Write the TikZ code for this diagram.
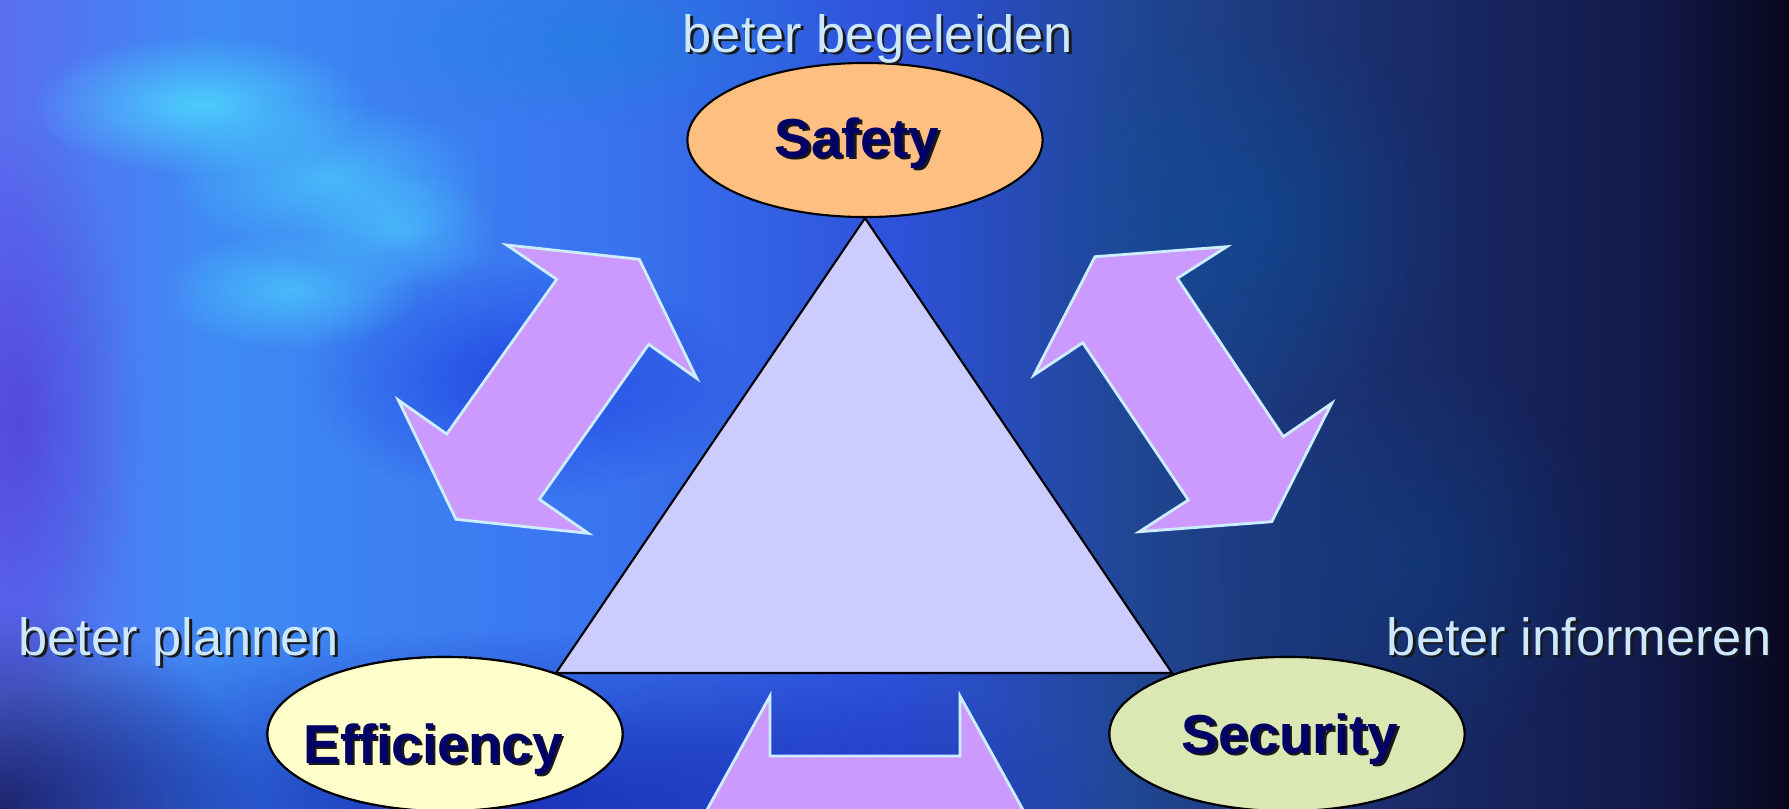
\documentclass[tikz,border=0pt]{standalone}
\usepackage{fontspec}
\setmainfont{Liberation Sans}
\usetikzlibrary{shapes.geometric,fadings}

\definecolor{bgA}{HTML}{5A6EF2}
\definecolor{bgB}{HTML}{3F8AF4}
\definecolor{bgC}{HTML}{3A74F0}
\definecolor{bgD}{HTML}{2E52DA}
\definecolor{bgE}{HTML}{1F4590}
\definecolor{bgF}{HTML}{1A2C6A}
\definecolor{bgG}{HTML}{121A4A}
\definecolor{bgH}{HTML}{08081E}
\definecolor{arrowfill}{HTML}{CC99FF}
\definecolor{arrowedge}{HTML}{CCEEFF}
\definecolor{trifill}{HTML}{CCCCFF}
\definecolor{safetyfill}{HTML}{FFBF80}
\definecolor{effifill}{HTML}{FFFFCC}
\definecolor{secufill}{HTML}{DCE8B4}
\definecolor{keynavy}{HTML}{000066}
\definecolor{goalblue}{HTML}{CCE8FF}
\definecolor{glow}{HTML}{4FDDFF}

% stops between 25bp and 75bp fill the path
\pgfdeclarehorizontalshading{nebula}{100bp}{color(0bp)=(bgA); color(25bp)=(bgA);
  color(31bp)=(bgB); color(42bp)=(bgC); color(50bp)=(bgD); color(57bp)=(bgE);
  color(64bp)=(bgF); color(71bp)=(bgG); color(75bp)=(bgH); color(100bp)=(bgH)}
\tikzfading[name=blobfade, inner color=transparent!0, outer color=transparent!100]

\tikzset{
  bubble/.style={ellipse, draw=black, line width=0.6pt,
    minimum width=3.55cm, minimum height=1.54cm, inner sep=0pt},
  dblarrow/.style={fill=arrowfill, draw=arrowedge, line width=0.8pt},
  blob/.style={path fading=blobfade},
  keyword/.style={font=\fontsize{15.6}{18}\selectfont\bfseries,
    text=keynavy, inner sep=0pt, anchor=base},
  goal/.style={font=\fontsize{14.9}{18}\selectfont,
    text=goalblue, inner sep=0pt},
}

% text with a dark drop shadow: style, name, position, text
\newcommand{\dropnode}[4]{%
  \node[#1, text=black!90] at ([shift={(2.5,2.5)}]#3) {#4};
  \node[#1] (#2) at (#3) {#4};
}

\begin{document}
\begin{tikzpicture}[x=0.01cm, y=-0.01cm]
  \useasboundingbox (0,0) rectangle (1789,808);
  \clip (0,0) rectangle (1789,808);
  % background
  \shade[shading=nebula] (0,0) rectangle (1789,808);
  \fill[bgG, blob, opacity=0.8] (0,808) ellipse [x radius=260, y radius=200];
  \fill[blue!55!black, blob, opacity=0.6] (500,800) ellipse [x radius=600, y radius=170];
  \fill[violet!60!blue, blob, opacity=0.35] (20,420) ellipse [x radius=120, y radius=300];
  \fill[blue!80!black, blob, opacity=0.4] (520,380) ellipse [x radius=220, y radius=120];
  \fill[glow, blob, opacity=0.8] (200,105) ellipse [x radius=170, y radius=70];
  \fill[glow, blob, opacity=0.6] (330,180) ellipse [x radius=160, y radius=80];
  \fill[glow, blob, opacity=0.6] (290,290) ellipse [x radius=130, y radius=60];
  \fill[glow, blob, opacity=0.5] (400,230) ellipse [x radius=100, y radius=60];
  \fill[cyan!70!blue, blob, opacity=0.4] (600,40) ellipse [x radius=250, y radius=90];
  \fill[teal!70!blue, blob, opacity=0.35] (1250,220) ellipse [x radius=220, y radius=200];
  \fill[teal!70!blue, blob, opacity=0.25] (1420,560) ellipse [x radius=200, y radius=200];

  % double arrows
  \draw[dblarrow] (506.7,245) -- (639.3,259.3) -- (696.7,378.3) -- (648.7,344.3)
    -- (539.3,499.3) -- (588.3,533.3) -- (456,519.3) -- (398.3,400)
    -- (446.7,434) -- (556.7,279.3) -- cycle;
  \draw[dblarrow] (1095,256.7) -- (1226.7,246.7) -- (1177.3,278.3) -- (1283.3,436.7)
    -- (1331.7,403.3) -- (1271.7,521.7) -- (1139.3,531.7) -- (1188.3,500)
    -- (1082.7,342.7) -- (1034,375) -- cycle;
  \draw[dblarrow] (705.5,812.5) -- (770,696) -- (770,756) -- (960,756) -- (960,696)
    -- (1024.5,812.5) -- (960,929) -- (960,869) -- (770,869) -- (770,929) -- cycle;

  % ellipses
  \node[bubble, fill=safetyfill] (safety) at (865,140) {};
  \node[bubble, fill=effifill] (efficiency) at (445,734) {};
  \node[bubble, fill=secufill] (security) at (1287,734) {};

  % triangle
  \draw[fill=trifill, line width=0.6pt, line join=miter]
    (safety.south) -- (1172,673) -- (556,673) -- cycle;
  \node[bubble, fill=effifill] at (efficiency) {};
  \node[bubble, fill=secufill] at (security) {};

  % texts
  \dropnode{keyword}{safetytext}{857,157}{Safety}
  \dropnode{keyword}{efficiencytext}{433,763}{Efficiency}
  \dropnode{keyword}{securitytext}{1290,753}{Security}
  \dropnode{goal, anchor=base}{begeleiden}{878,52}{beter begeleiden}
  \dropnode{goal, anchor=base west}{plannen}{18,655}{beter plannen}
  \dropnode{goal, anchor=base east}{informeren}{1772,655}{beter informeren}
\end{tikzpicture}
\end{document}
